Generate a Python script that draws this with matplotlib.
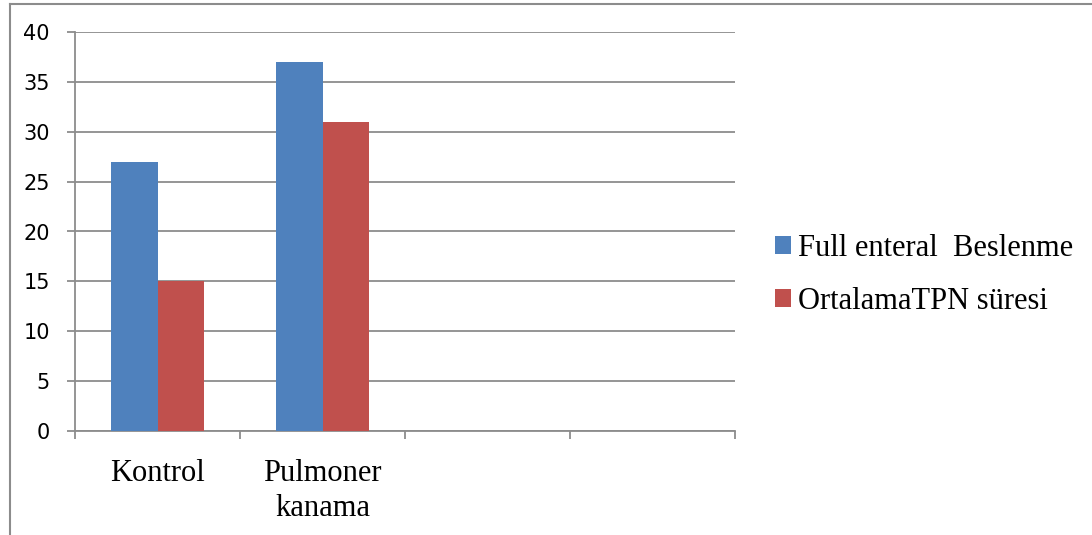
import matplotlib.pyplot as plt
from matplotlib.lines import Line2D
from matplotlib.patches import Patch
import numpy as np

# data
categories = ["Kontrol", "Pulmoner\nkanama", "", ""]
full_enteral = [27, 37]
ortalama_tpn = [15, 31]
series_labels = ["Full enteral  Beslenme", "OrtalamaTPN süresi"]
y_ticks = [0, 5, 10, 15, 20, 25, 30, 35, 40]

BLUE = "#4F81BD"
RED = "#C0504D"
GRID = "#8C8C8C"

W, H = 1092, 535
fig = plt.figure(figsize=(W / 100, H / 100), dpi=100)

# axes placed in pixel terms of the reference
left, right, top, bottom = 75, 735, 32, 431
ax = fig.add_axes([left / W, 1 - bottom / H, (right - left) / W, (bottom - top) / H])

n = len(categories)
bw = 0.283
x = np.arange(len(full_enteral))
ax.bar(x - bw / 2, full_enteral, bw, color=BLUE, zorder=3)
ax.bar(x + bw / 2, ortalama_tpn, bw, color=RED, zorder=3)

ax.set_xlim(-0.5, n - 0.5)
ax.set_ylim(0, 40)
ax.set_yticks(y_ticks)
ax.set_yticklabels([str(v) for v in y_ticks], fontsize=15, family="DejaVu Sans")
ax.yaxis.grid(True, color=GRID, linewidth=1.3, zorder=0)

# category ticks sit on the boundaries, labels in the middle
ax.set_xticks(np.arange(n + 1) - 0.5)
ax.set_xticklabels([])
ax.set_xticks(np.arange(n), minor=True)
ax.set_xticklabels(categories, minor=True, fontsize=22, family="Liberation Serif",
                   linespacing=1.3)
ax.tick_params(axis="x", which="minor", length=0, pad=20)
ax.tick_params(axis="x", which="major", length=6, width=1.3, color=GRID)
ax.tick_params(axis="y", length=6, width=1.3, color=GRID, pad=12)

for s in ["top", "right"]:
    ax.spines[s].set_visible(False)
for s in ["left", "bottom"]:
    ax.spines[s].set_color(GRID)
    ax.spines[s].set_linewidth(1.3)

handles = [Patch(facecolor=BLUE), Patch(facecolor=RED)]
fig.legend(handles, series_labels, loc="center left",
           bbox_to_anchor=(775 / W, 1 - 275 / H), frameon=False,
           prop={"family": "Liberation Serif", "size": 22},
           handlelength=0.52, handleheight=0.52, handletextpad=0.24,
           labelspacing=0.78, borderaxespad=0, borderpad=0)

# outer chart frame (only left and top edges visible in the crop)
fig.add_artist(Line2D([9.5 / W, 9.5 / W], [0, 1 - 3.5 / H], color=GRID, linewidth=1.5))
fig.add_artist(Line2D([9.5 / W, 1], [1 - 3.5 / H, 1 - 3.5 / H], color=GRID, linewidth=1.5))

fig.savefig("out.png", dpi=100)
